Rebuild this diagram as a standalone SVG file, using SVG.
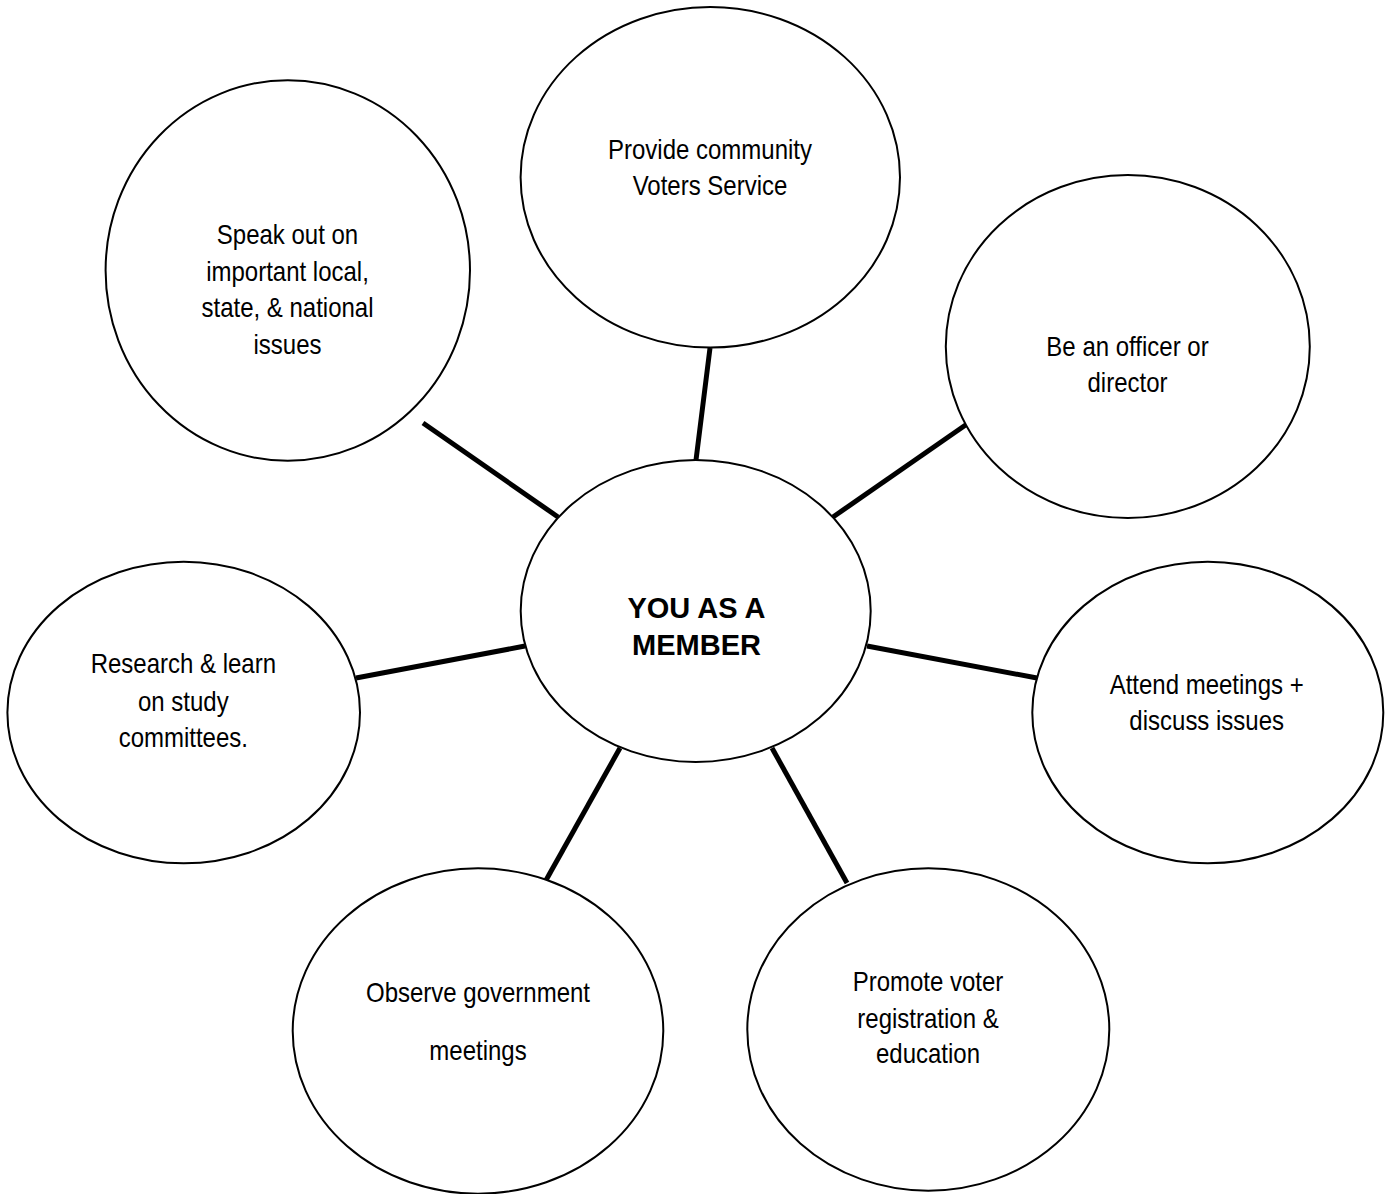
<svg xmlns="http://www.w3.org/2000/svg" width="1390" height="1194" viewBox="0 0 1390 1194">
<style>
.bg{fill:#fff}
.node{fill:#fff;stroke:#000;stroke-width:2}
.conn{stroke:#000;stroke-width:5;stroke-linecap:butt;fill:none}
.t{font-family:"Liberation Sans",Arial,sans-serif;font-size:27px;fill:#000;text-anchor:middle}
.tb{font-family:"Liberation Sans",Arial,sans-serif;font-size:29px;font-weight:bold;fill:#000;text-anchor:middle}
</style>
<rect class="bg" x="0" y="0" width="1390" height="1194"/>
<g id="connectors">
<line class="conn" x1="710" y1="348" x2="696" y2="460"/>
<line class="conn" x1="423" y1="423" x2="558" y2="517"/>
<line class="conn" x1="967" y1="424" x2="833" y2="517"/>
<line class="conn" x1="356" y1="678" x2="525" y2="646"/>
<line class="conn" x1="867" y1="646" x2="1037" y2="678"/>
<line class="conn" x1="620" y1="748" x2="545" y2="882"/>
<line class="conn" x1="772" y1="748" x2="847" y2="883"/>
</g>
<g id="center">
<ellipse class="node" cx="695.7" cy="611" rx="175" ry="151"/>
<text class="tb" x="696.5" y="618">YOU AS A</text>
<text class="tb" x="696.5" y="655">MEMBER</text>
</g>
<g id="provide">
<ellipse class="node" cx="710.3" cy="177.3" rx="189.7" ry="170.3"/>
<g transform="translate(710,0) scale(0.889,1)">
<text class="t" x="0" y="159.5">Provide community</text>
<text class="t" x="0" y="195">Voters Service</text>
</g>
</g>
<g id="speak">
<ellipse class="node" cx="287.8" cy="270.5" rx="182.2" ry="190.3"/>
<g transform="translate(287.5,0) scale(0.889,1)">
<text class="t" x="0" y="244.5">Speak out on</text>
<text class="t" x="0" y="281">important local,</text>
<text class="t" x="0" y="317.5">state, &amp; national</text>
<text class="t" x="0" y="354">issues</text>
</g>
</g>
<g id="officer">
<ellipse class="node" cx="1127.8" cy="346.5" rx="182" ry="171.5"/>
<g transform="translate(1127.5,0) scale(0.889,1)">
<text class="t" x="0" y="356">Be an officer or</text>
<text class="t" x="0" y="391.7">director</text>
</g>
</g>
<g id="attend">
<ellipse class="node" cx="1207.8" cy="712.5" rx="175.5" ry="150.8"/>
<g transform="translate(1206.7,0) scale(0.889,1)">
<text class="t" x="0" y="693.5">Attend meetings +</text>
<text class="t" x="0" y="730">discuss issues</text>
</g>
</g>
<g id="research">
<ellipse class="node" cx="183.7" cy="712.5" rx="176.3" ry="150.8"/>
<g transform="translate(183.3,0) scale(0.889,1)">
<text class="t" x="0" y="673.3">Research &amp; learn</text>
<text class="t" x="0" y="711">on study</text>
<text class="t" x="0" y="746.7">committees.</text>
</g>
</g>
<g id="observe">
<ellipse class="node" cx="478" cy="1031" rx="185.3" ry="162.7"/>
<g transform="translate(478,0) scale(0.889,1)">
<text class="t" x="0" y="1001.7">Observe government</text>
<text class="t" x="0" y="1060">meetings</text>
</g>
</g>
<g id="promote">
<ellipse class="node" cx="928.3" cy="1029.5" rx="181" ry="161.2"/>
<g transform="translate(928,0) scale(0.889,1)">
<text class="t" x="0" y="990.7">Promote voter</text>
<text class="t" x="0" y="1027.7">registration &amp;</text>
<text class="t" x="0" y="1063.3">education</text>
</g>
</g>
</svg>
